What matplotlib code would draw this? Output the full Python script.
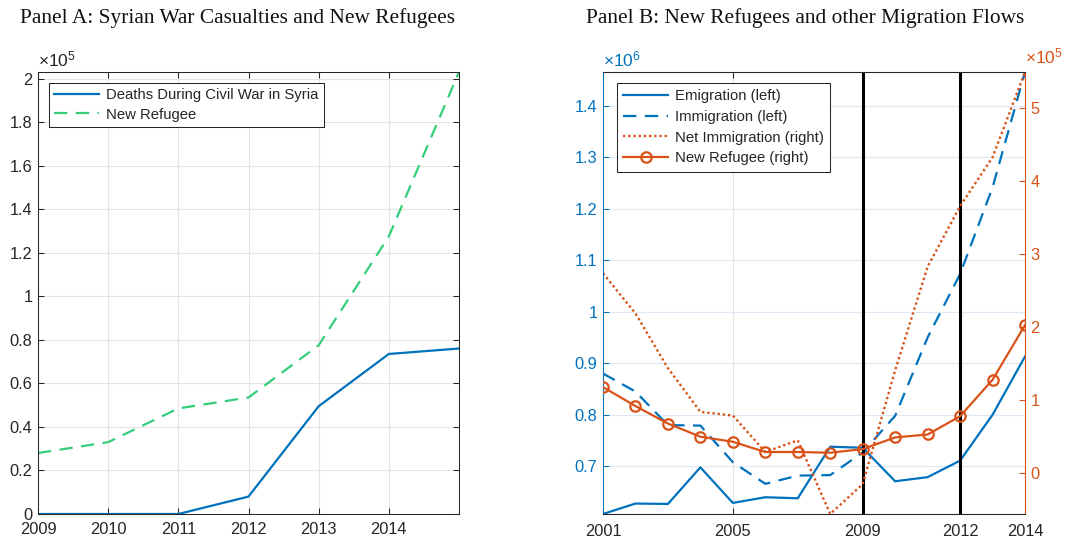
import matplotlib
matplotlib.use('Agg')
import matplotlib.pyplot as plt
import numpy as np

# Panel A data
years_a = [2009, 2010, 2011, 2012, 2013, 2014, 2015]
deaths = [0, 0, 0, 8000, 49500, 73500, 76000]
refugee_a = [28000, 33000, 48500, 53500, 77500, 127500, 203000]
xticks_a = [2009, 2010, 2011, 2012, 2013, 2014]
yticks_a = [0, 20000, 40000, 60000, 80000, 100000, 120000, 140000, 160000, 180000, 200000]

# Panel B data
years_b = list(range(2001, 2015))
emigration = [607500, 627800, 627000, 698000, 629000, 640000, 638000,
              738000, 736000, 671000, 679000, 711000, 800000, 913000]
immigration = [880000, 845000, 780000, 779000, 708000, 666000, 682000,
               683000, 727000, 798000, 950000, 1073000, 1241000, 1465000]
net_immigration = [274000, 219000, 144000, 84000, 79000, 29000, 45000,
                   -56000, -15000, 141000, 283000, 366000, 433000, 550000]
new_refugee = [118000, 92000, 68000, 50000, 43000, 29000, 29000,
               28000, 33000, 49000, 53000, 78000, 128000, 203000]
xticks_b = [2001, 2005, 2009, 2012, 2014]
yticks_left = [700000, 800000, 900000, 1000000, 1100000, 1200000, 1300000, 1400000]
yticks_right = [0, 100000, 200000, 300000, 400000, 500000]
policy_years = [2009, 2012]

BLUE = '#0072BD'
ORANGE = '#D95319'
GREEN = '#35CE7A'
DARK = '#262626'
TICK_FS = 11.8
LEG_FS = 10.7

plt.rcParams['font.family'] = ['Liberation Sans', 'DejaVu Sans']
plt.rcParams['mathtext.fontset'] = 'custom'
plt.rcParams['mathtext.rm'] = 'Liberation Sans'
plt.rcParams['mathtext.default'] = 'regular'
plt.rcParams['font.size'] = 10

fig = plt.figure(figsize=(10.70, 5.41), dpi=100)
W, H = 1070, 541


def frac(l, t, r, b):
    return [l / W, 1 - b / H, (r - l) / W, (b - t) / H]


def fmt(v, scale):
    return '%g' % round(v / scale, 6)


# ---------- Panel A ----------
axA = fig.add_axes(frac(38, 72, 459, 514))
axA.plot(years_a, deaths, color=BLUE, lw=1.6, label='Deaths During Civil War in Syria')
axA.plot(years_a, refugee_a, color=GREEN, lw=1.6, dashes=(6, 3.8), label='New Refugee')
axA.set_xlim(2009, 2015)
axA.set_ylim(0, max(refugee_a))
axA.set_xticks(xticks_a)
axA.set_xticklabels([str(x) for x in xticks_a])
axA.set_yticks(yticks_a)
axA.set_yticklabels([fmt(v, 1e5) for v in yticks_a])
axA.grid(True, color='#e3e3e3', lw=0.8)
axA.set_axisbelow(True)
axA.tick_params(direction='in', length=4, width=0.75, colors=DARK, labelsize=TICK_FS,
                top=True, right=True, pad=4)
axA.tick_params(axis='x', pad=6)
for s in axA.spines.values():
    s.set_color(DARK)
    s.set_linewidth(0.75)
axA.text(0.0, 1.006, r'$\times10^{5}$', transform=axA.transAxes, color=DARK,
         fontsize=12.5, ha='left', va='bottom')
legA = axA.legend(loc='upper left', bbox_to_anchor=(11 / 421, 1 - 11 / 442),
                  borderaxespad=0, fancybox=False, framealpha=1, edgecolor=DARK,
                  fontsize=LEG_FS, handlelength=3.0, handletextpad=0.45,
                  labelspacing=0.34, borderpad=0.37)
legA.get_frame().set_linewidth(0.75)
for t in legA.get_texts():
    t.set_color(DARK)

fig.text(238 / W, 1 - 23 / H, 'Panel A: Syrian War Casualties and New Refugees',
         family='Liberation Serif', fontsize=15.4, ha='center', va='baseline', color='#111111')

# ---------- Panel B ----------
axB = fig.add_axes(frac(603, 72, 1025, 514))
l1, = axB.plot(years_b, emigration, color=BLUE, lw=1.6, label='Emigration (left)')
l2, = axB.plot(years_b, immigration, color=BLUE, lw=1.6, dashes=(6, 3.8),
               label='Immigration (left)')
axB.set_xlim(2001, 2014)
axB.set_ylim(min(emigration), max(immigration))
axB.set_xticks(xticks_b)
axB.set_xticklabels([str(x) for x in xticks_b])
axB.set_yticks(yticks_left)
axB.set_yticklabels([fmt(v, 1e6) for v in yticks_left])
axB.grid(True, axis='x', color='#e3e3e3', lw=0.8)
axB.grid(True, axis='y', color='#dce9f4', lw=0.8)
axB.set_axisbelow(True)
axB.tick_params(axis='x', direction='in', length=4, width=0.75, colors=DARK,
                labelsize=TICK_FS, top=True, pad=7)
axB.tick_params(axis='y', direction='in', length=4, width=0.75, colors=BLUE,
                labelsize=TICK_FS, right=False, pad=4)
axB.spines['left'].set_color(BLUE)
axB.spines['top'].set_color(DARK)
axB.spines['bottom'].set_color(DARK)
for s in axB.spines.values():
    s.set_linewidth(0.75)
axB.text(0.0, 1.006, r'$\times10^{6}$', transform=axB.transAxes, color=BLUE,
         fontsize=12.5, ha='left', va='bottom')

ax2 = axB.twinx()
for yr in policy_years:
    ax2.axvline(yr, color='black', lw=2.2, zorder=1)
l3, = ax2.plot(years_b, net_immigration, color=ORANGE, lw=1.7, dashes=(1, 1.2),
               label='Net Immigration (right)', zorder=2)
l4, = ax2.plot(years_b, new_refugee, color=ORANGE, lw=1.6, marker='o', ms=7.5,
               mfc='none', mew=1.6, label='New Refugee (right)', zorder=3)
ax2.set_xlim(2001, 2014)
ax2.set_ylim(min(net_immigration), max(net_immigration))
ax2.set_yticks(yticks_right)
ax2.set_yticklabels([fmt(v, 1e5) for v in yticks_right])
ax2.tick_params(axis='y', direction='in', length=4, width=0.75, colors=ORANGE,
                labelsize=TICK_FS, pad=4)
ax2.spines['right'].set_color(ORANGE)
ax2.spines['left'].set_color(BLUE)
ax2.spines['top'].set_color(DARK)
ax2.spines['bottom'].set_color(DARK)
for s in ax2.spines.values():
    s.set_linewidth(0.75)
ax2.text(1.0, 1.012, r'$\times10^{5}$', transform=ax2.transAxes, color=ORANGE,
         fontsize=12.5, ha='left', va='bottom')

legB = ax2.legend(handles=[l1, l2, l3, l4], loc='upper left',
                  bbox_to_anchor=(14 / 422, 1 - 11 / 442), borderaxespad=0,
                  fancybox=False, framealpha=1, edgecolor=DARK, fontsize=LEG_FS,
                  handlelength=3.0, handletextpad=0.45, labelspacing=0.45,
                  borderpad=0.42)
legB.get_frame().set_linewidth(0.75)
legB.set_zorder(10)
for t in legB.get_texts():
    t.set_color(DARK)

fig.text(805 / W, 1 - 23 / H, 'Panel B: New Refugees and other Migration Flows',
         family='Liberation Serif', fontsize=15.4, ha='center', va='baseline', color='#111111')

fig.savefig('out.png', dpi=100, facecolor='white')
